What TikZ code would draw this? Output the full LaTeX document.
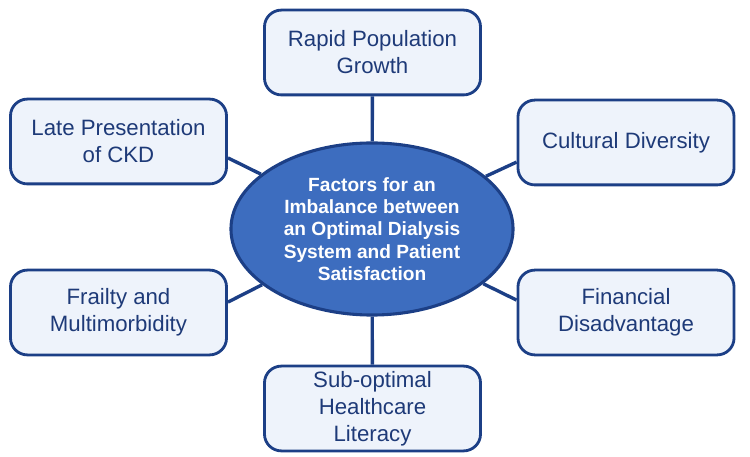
\documentclass[tikz,border=0pt]{standalone}
\usepackage{fontspec}
\setmainfont{Liberation Sans}
\usetikzlibrary{shapes.geometric, backgrounds}
\definecolor{boxblue}{HTML}{EEF3FB}
\definecolor{navyline}{HTML}{1C3F86}
\definecolor{navytext}{HTML}{1E3A78}
\definecolor{hubblue}{HTML}{3D6DBF}

\begin{document}
\begin{tikzpicture}[x=0.025cm, y=-0.025cm, line cap=round, line join=round,
    factor/.style={draw=navyline, line width=2pt, fill=boxblue, rounded corners=12pt,
      minimum width=5.4cm, minimum height=2.12cm, align=center, text=navytext,
      font=\fontsize{15.8}{19.2}\selectfont},
    hub/.style={ellipse, draw=navyline, line width=2.2pt, fill=hubblue,
      minimum width=7.05cm, minimum height=4.3cm, inner sep=0pt, align=center,
      text=white, font=\bfseries\fontsize{13.6}{15.8}\selectfont},
    link/.style={navyline, line width=2.4pt}]
  \useasboundingbox (0,0) rectangle (750,457);

  % Centro
  \node[hub] (hub) at (372,229) {Factors for an\\Imbalance between\\an Optimal Dialysis\\System and Patient\\Satisfaction};

  % Factores
  \node[factor] (growth) at (372.5,52.5) {Rapid Population\\Growth};
  \node[factor] (late) at (118.5,141.5) {Late Presentation\\of CKD};
  \node[factor] (culture) at (626,142.5) {Cultural Diversity};
  \node[factor] (frailty) at (118.5,312.5) {Frailty and\\Multimorbidity};
  \node[factor] (finance) at (626,312.5) {Financial\\Disadvantage};
  \node[factor] (literacy) at (372.5,408.5) {Sub-optimal\\Healthcare\\Literacy};

  % Conexiones
  \begin{scope}[on background layer]
    \draw[link] (hub) -- (growth);
    \draw[link] (hub) -- (literacy);
    \draw[link] (hub) -- ([yshift=-0.41cm]late.east);
    \draw[link] (hub) -- ([yshift=0.26cm]frailty.east);
    \draw[link] (hub) -- ([yshift=-0.49cm]culture.west);
    \draw[link] (hub) -- ([yshift=0.31cm]finance.west);
  \end{scope}
\end{tikzpicture}
\end{document}
